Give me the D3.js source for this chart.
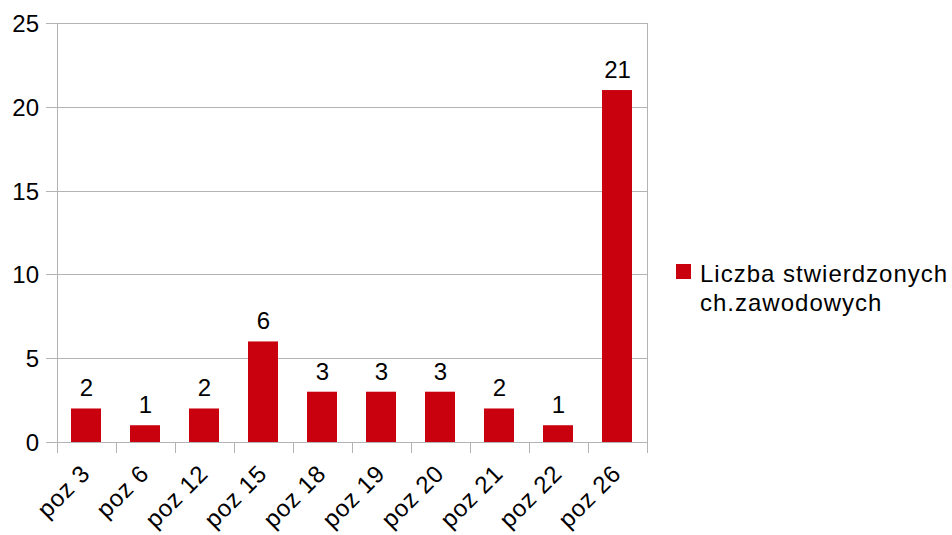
<!DOCTYPE html>
<html>
<head>
<meta charset="utf-8">
<script src="https://cdn.jsdelivr.net/npm/d3@7"></script>
<style>
  body { margin: 0; background: #fff; }
  svg text { font-family: "Liberation Sans", Arial, sans-serif; fill: #000; }
</style>
</head>
<body>
<svg id="chart" width="952" height="535"></svg>
<script>
const categories = ["poz 3", "poz 6", "poz 12", "poz 15", "poz 18", "poz 19", "poz 20", "poz 21", "poz 22", "poz 26"];
const values = [2, 1, 2, 6, 3, 3, 3, 2, 1, 21];
const yTicks = [0, 5, 10, 15, 20, 25];
const seriesName = ["Liczba stwierdzonych", "ch.zawodowych"];

const plotLeft = 57, plotRight = 647, plotTop = 23, plotBottom = 442;
const svg = d3.select("#chart");

const x = d3.scaleBand().domain(categories).range([plotLeft, plotRight]).paddingInner(0.49).paddingOuter(0.245);
const xb = d3.scaleBand().domain(categories).range([plotLeft, plotRight]);
const y = d3.scaleLinear().domain([0, 25]).range([plotBottom, plotTop]);

// grid lines
svg.append("g").selectAll("line")
  .data(yTicks)
  .enter().append("line")
  .attr("x1", plotLeft - 11).attr("x2", plotRight)
  .attr("y1", d => Math.round(y(d)) + 0.5).attr("y2", d => Math.round(y(d)) + 0.5)
  .attr("stroke", "#b3b3b3");

// right border + left axis
svg.append("line").attr("x1", plotRight + 0.5).attr("x2", plotRight + 0.5)
  .attr("y1", plotTop).attr("y2", plotBottom + 11).attr("stroke", "#b3b3b3");
svg.append("line").attr("x1", plotLeft + 0.5).attr("x2", plotLeft + 0.5)
  .attr("y1", plotTop).attr("y2", plotBottom + 11).attr("stroke", "#b3b3b3");

// x tick marks at category boundaries
svg.append("g").selectAll("line")
  .data(categories.slice(1))
  .enter().append("line")
  .attr("x1", d => Math.round(xb(d)) + 0.5).attr("x2", d => Math.round(xb(d)) + 0.5)
  .attr("y1", plotBottom).attr("y2", plotBottom + 11)
  .attr("stroke", "#b3b3b3");

// y labels
svg.append("g").selectAll("text")
  .data(yTicks)
  .enter().append("text")
  .attr("x", 39).attr("y", d => y(d) + 9)
  .attr("text-anchor", "end")
  .attr("font-size", 24)
  .text(d => d);

// bars
svg.append("g").selectAll("rect")
  .data(values)
  .enter().append("rect")
  .attr("x", (d, i) => Math.round(x(categories[i])))
  .attr("y", d => y(d))
  .attr("width", Math.round(x.bandwidth()))
  .attr("height", d => plotBottom - y(d))
  .attr("fill", "#c9000e");

// value labels
svg.append("g").selectAll("text")
  .data(values)
  .enter().append("text")
  .attr("x", (d, i) => x(categories[i]) + x.bandwidth() / 2)
  .attr("y", d => y(d) - 12)
  .attr("text-anchor", "middle")
  .attr("font-size", 24)
  .text(d => d);

// x labels
svg.append("g").selectAll("text")
  .data(categories)
  .enter().append("text")
  .attr("transform", d => `translate(${xb(d) + xb.bandwidth() / 2 + 5},${plotBottom + 33}) rotate(-45)`)
  .attr("text-anchor", "end")
  .attr("font-size", 24)
  .attr("letter-spacing", 0.8)
  .text(d => d);

// legend
svg.append("rect").attr("x", 676).attr("y", 264).attr("width", 15).attr("height", 15).attr("fill", "#c9000e");
svg.append("g").selectAll("text")
  .data(seriesName)
  .enter().append("text")
  .attr("x", 700).attr("y", (d, i) => 282 + i * 29)
  .attr("font-size", 24)
  .attr("letter-spacing", 1)
  .text(d => d);
</script>
</body>
</html>
